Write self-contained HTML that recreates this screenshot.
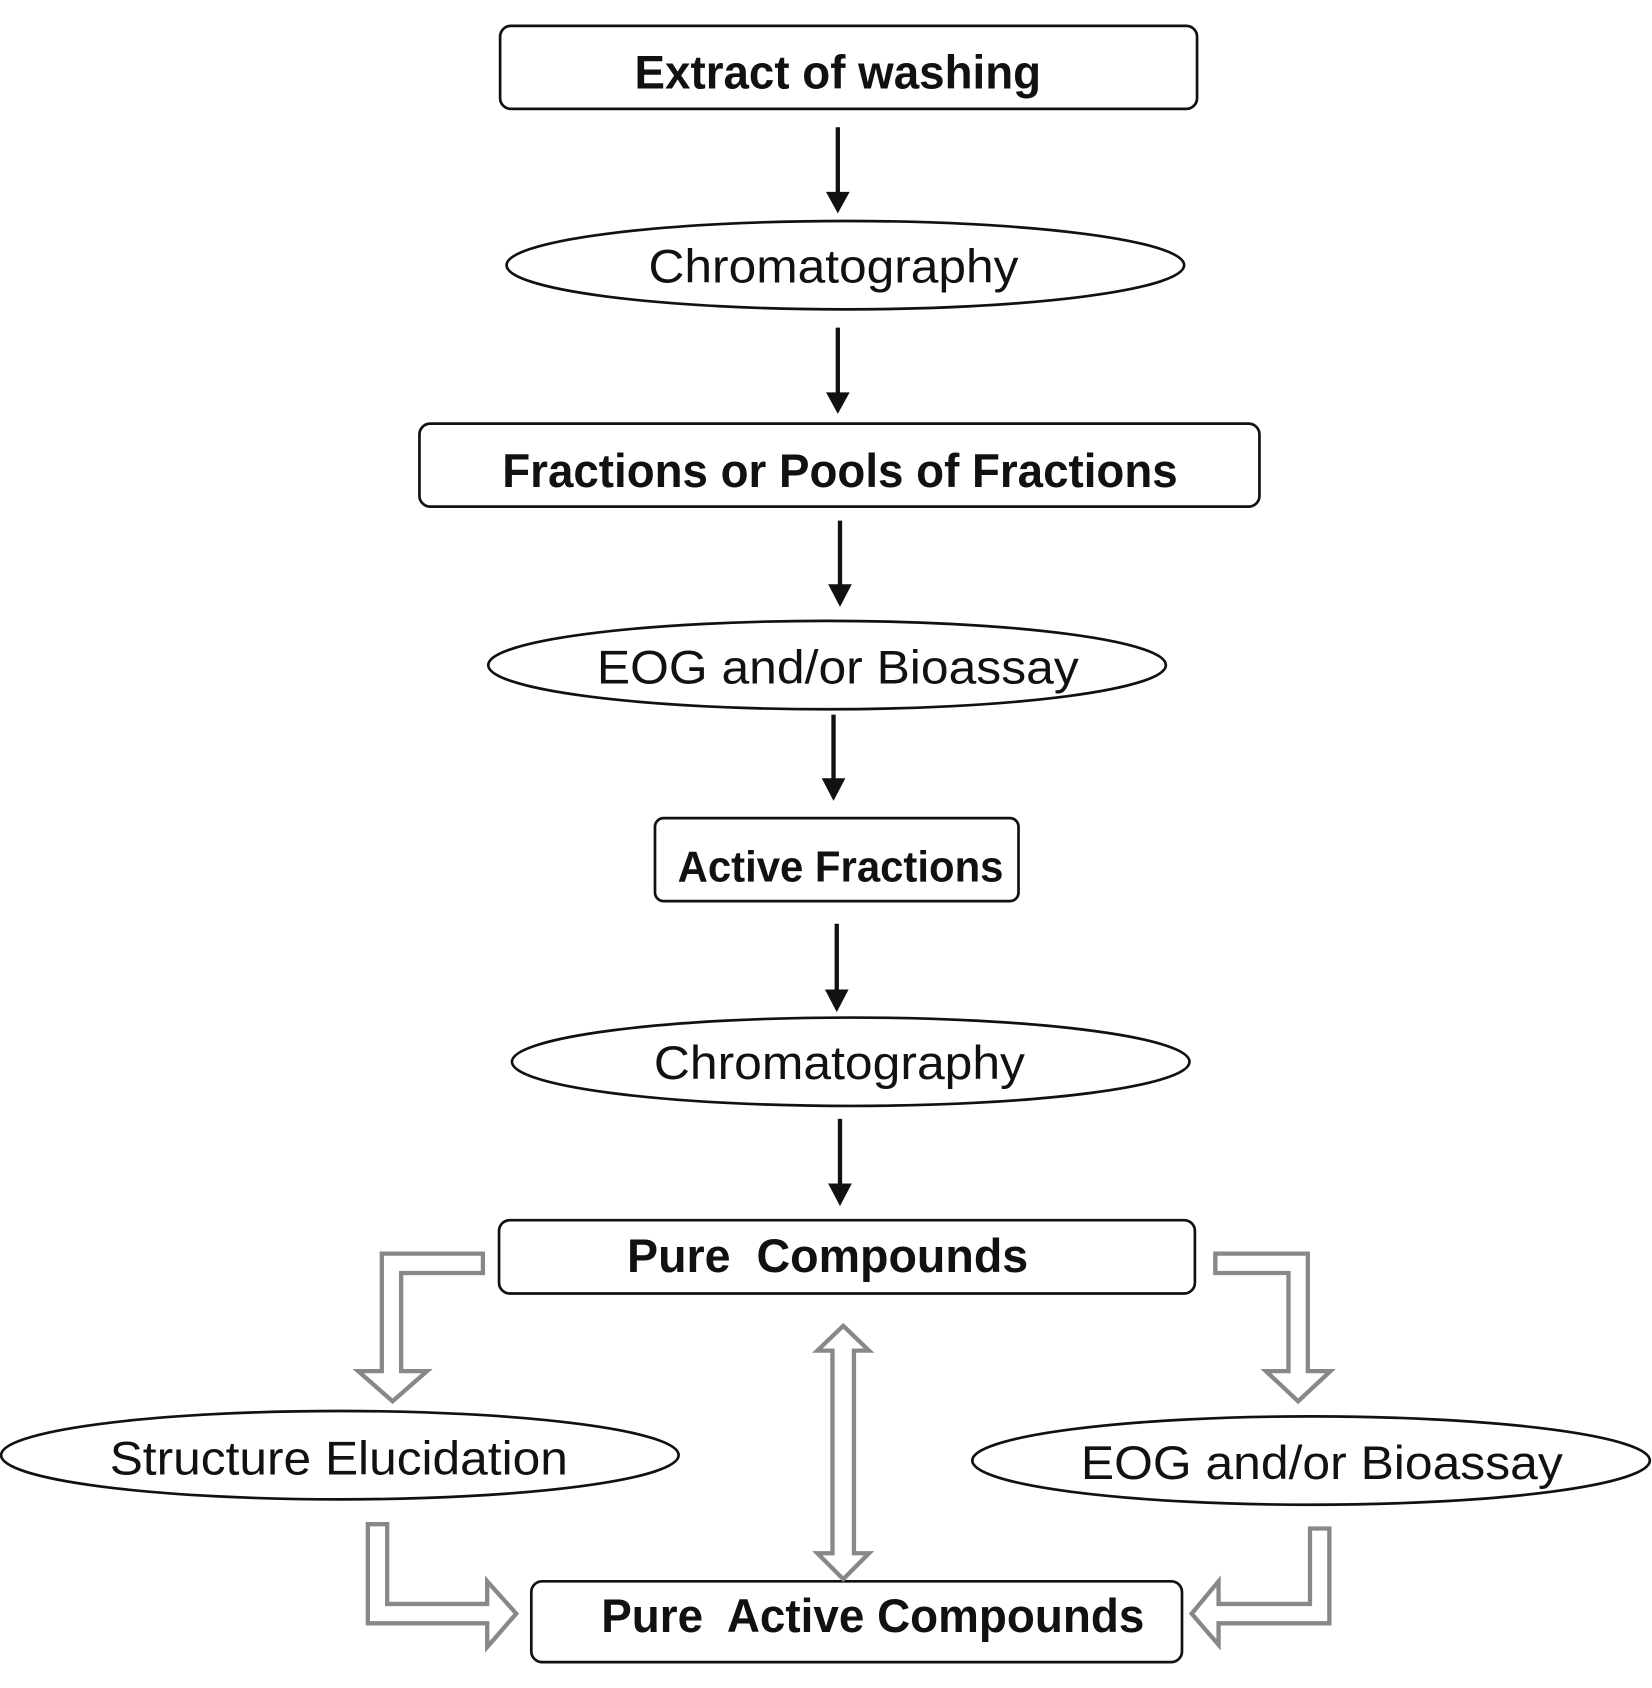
<!DOCTYPE html>
<html><head><style>html,body{margin:0;padding:0;background:#fff}svg{display:block}</style></head>
<body>
<svg width="1652" height="1688" viewBox="0 0 1536 1566" preserveAspectRatio="none" xmlns="http://www.w3.org/2000/svg" font-family="Liberation Sans, Arial, sans-serif">
<g fill="#fff" stroke="#111" stroke-width="2.5">
<rect x="465" y="24" width="648" height="77" rx="10"/>
<ellipse cx="786" cy="246" rx="315" ry="41"/>
<rect x="390" y="393" width="781" height="77" rx="10"/>
<ellipse cx="769" cy="617" rx="315" ry="41"/>
<rect x="609" y="759" width="338" height="77" rx="8"/>
<ellipse cx="791" cy="985" rx="315" ry="41"/>
<rect x="464" y="1132" width="647" height="68" rx="10"/>
<ellipse cx="316" cy="1350" rx="315" ry="41"/>
<ellipse cx="1219" cy="1355" rx="315" ry="41"/>
<rect x="494" y="1467" width="605" height="75" rx="10"/>
</g>
<g stroke="#111" stroke-width="4">
<line x1="779" y1="118" x2="779" y2="186"/>
<line x1="779" y1="304" x2="779" y2="371"/>
<line x1="781" y1="483" x2="781" y2="550"/>
<line x1="775" y1="663" x2="775" y2="730"/>
<line x1="778" y1="857" x2="778" y2="926"/>
<line x1="781" y1="1038" x2="781" y2="1106"/>
</g>
<g fill="#111">
<polygon points="768,178 790,178 779,198"/>
<polygon points="768,364 790,364 779,384"/>
<polygon points="770,542 792,542 781,563"/>
<polygon points="764,722 786,722 775,743"/>
<polygon points="767,918 789,918 778,939"/>
<polygon points="770,1098 792,1098 781,1119"/>
</g>
<g fill="#fff" stroke="#888" stroke-width="4">
<polygon points="449,1163 355,1163 355,1272 333,1272 365,1300 397,1272 373,1272 373,1181 449,1181"/>
<polygon points="1130,1163 1216,1163 1216,1272 1237,1272 1207,1300 1177,1272 1198,1272 1198,1181 1130,1181"/>
<polygon points="342,1414 342,1506 453,1506 453,1528 480,1497 453,1467 453,1488 360,1488 360,1414"/>
<polygon points="1236,1418 1236,1506 1133,1506 1133,1526 1108,1497 1133,1467 1133,1488 1218,1488 1218,1418"/>
<polygon points="784,1230 808,1253 794,1253 794,1441 808,1441 784,1465 760,1441 774,1441 774,1253 760,1253"/>
</g>
<g fill="#111" text-anchor="middle" font-size="44" lengthAdjust="spacingAndGlyphs">
<text x="779" y="82" font-weight="bold" textLength="378" lengthAdjust="spacingAndGlyphs">Extract of washing</text>
<text x="775" y="262" textLength="344" lengthAdjust="spacingAndGlyphs">Chromatography</text>
<text x="781" y="452" font-weight="bold" textLength="628" lengthAdjust="spacingAndGlyphs">Fractions or Pools of Fractions</text>
<text x="779" y="634" textLength="448" lengthAdjust="spacingAndGlyphs">EOG and/or Bioassay</text>
<text x="781.5" y="818" font-weight="bold" font-size="40" textLength="303" lengthAdjust="spacingAndGlyphs">Active Fractions</text>
<text x="780.5" y="1001" textLength="345" lengthAdjust="spacingAndGlyphs">Chromatography</text>
<text x="769.5" y="1180" font-weight="bold" xml:space="preserve" textLength="373" lengthAdjust="spacingAndGlyphs">Pure  Compounds</text>
<text x="315" y="1368" textLength="426" lengthAdjust="spacingAndGlyphs">Structure Elucidation</text>
<text x="1229" y="1372" textLength="448" lengthAdjust="spacingAndGlyphs">EOG and/or Bioassay</text>
<text x="811.5" y="1514" font-weight="bold" xml:space="preserve" textLength="505" lengthAdjust="spacingAndGlyphs">Pure  Active Compounds</text>
</g>
</svg>
</body></html>
